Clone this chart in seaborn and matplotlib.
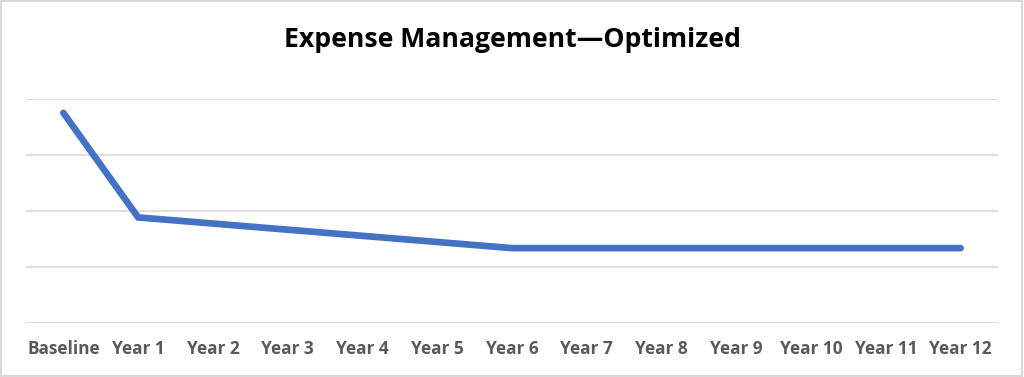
import matplotlib
matplotlib.use("Agg")
import matplotlib.pyplot as plt
import seaborn as sns
import pandas as pd
from matplotlib.patches import Rectangle

# data (gridlines = 0..4, no value labels shown)
categories = ["Baseline", "Year 1", "Year 2", "Year 3", "Year 4", "Year 5", "Year 6",
              "Year 7", "Year 8", "Year 9", "Year 10", "Year 11", "Year 12"]
expense = [3.76, 1.89, 1.78, 1.67, 1.56, 1.45, 1.34,
           1.34, 1.34, 1.34, 1.34, 1.34, 1.34]

df = pd.DataFrame({"period": categories, "expense": expense})

sns.set_style("white")
plt.rcParams["font.family"] = ["Open Sans", "DejaVu Sans"]

fig = plt.figure(figsize=(10.24, 3.77), dpi=100)
ax = fig.add_axes([0.0254, 0.1432, 0.9492, 0.5929])

sns.lineplot(data=df, x="period", y="expense", ax=ax, color="#4472C4",
             linewidth=4.8, sort=False)
for ln in ax.get_lines():
    ln.set_solid_capstyle("round")
    ln.set_solid_joinstyle("miter")

ax.set_xlim(-0.5, len(categories) - 0.5)
ax.set_ylim(0, 4)
ax.set_yticks([0, 1, 2, 3, 4])
ax.set_yticklabels([])
ax.yaxis.grid(True, color="#d9d9d9", linewidth=1.1)
ax.set_axisbelow(True)
ax.tick_params(axis="both", length=0)
ax.tick_params(axis="x", pad=12, labelsize=12.4, labelcolor="#595959")
for lbl in ax.get_xticklabels():
    lbl.set_fontweight("bold")
ax.set_xlabel("")
ax.set_ylabel("")
for s in ax.spines.values():
    s.set_visible(False)

fig.text(0.5, 0.895, "Expense Management\u2014Optimized", ha="center", va="center",
         fontsize=19.2, fontweight="bold", color="black")

# outer chart border
fig.patches.append(Rectangle((0.001, 0.002), 0.997, 0.995, transform=fig.transFigure,
                             fill=False, edgecolor="#d9d9d9", linewidth=1.5))

fig.savefig("out.png", dpi=100)
